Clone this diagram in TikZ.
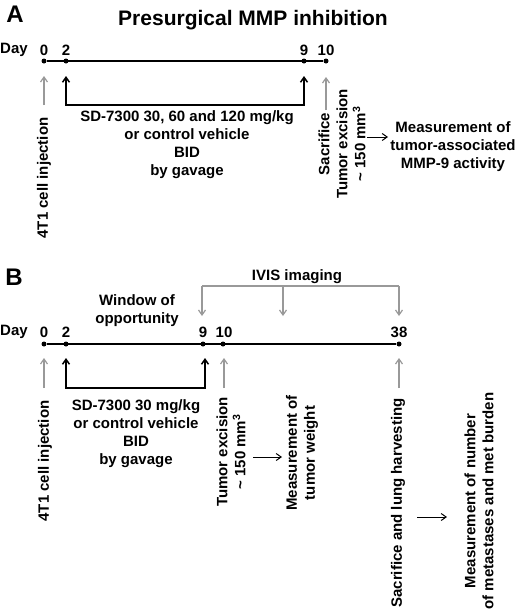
\documentclass[tikz,border=0pt]{standalone}
\usepackage{fontspec}
\setmainfont{Liberation Sans}
\usetikzlibrary{arrows.meta}
\tikzset{
  dot/.style={circle,fill=black,inner sep=0pt,minimum size=5pt},
  daynum/.style={font=\fontsize{15}{17}\bfseries\selectfont},
  txt/.style={font=\fontsize{15}{18}\bfseries\selectfont,align=center,inner sep=0pt},
  vtxt/.style={txt,rotate=90},
  tline/.style={line width=1.5pt},
  barrow/.style={line width=1.5pt,-{Straight Barb[length=5pt,width=7pt]}},
  bbracket/.style={line width=1.5pt,{Straight Barb[length=5pt,width=7pt]}-{Straight Barb[length=5pt,width=7pt]}},
  garrow/.style={line width=1.2pt,draw=gray!80,-{Straight Barb[length=5pt,width=7pt]}},
}
\begin{document}
\begin{tikzpicture}[x=1pt,y=-1pt]
\useasboundingbox (0,0) rectangle (520,616);

% panel A
\node[font=\fontsize{24}{26}\bfseries\selectfont] (A) at (15,14) {A};
\node[font=\fontsize{21}{23}\bfseries\selectfont] (titleA) at (253,20) {Presurgical MMP inhibition};
\node[daynum] (dayA) at (14,50) {Day};

\node[dot] (a0) at (44,61) {};
\node[dot] (a2) at (66,61) {};
\node[dot] (a9) at (304,61) {};
\node[dot] (a10) at (326,61) {};
\draw[tline] (a0) -- (a10);
\node[daynum] (na0) at (44,50) {0};
\node[daynum] (na2) at (66,50) {2};
\node[daynum] (na9) at (304,50) {9};
\node[daynum] (na10) at (326,50) {10};

\coordinate (ga0t) at (44,76);
\coordinate (ga0b) at (44,105);
\coordinate (ga10t) at (326,77);
\coordinate (ga10b) at (326,110);
\draw[garrow] (ga0b) -- (ga0t);
\draw[garrow] (ga10b) -- (ga10t);

\coordinate (ba2) at (66,76);
\coordinate (ba9) at (304,76);
\draw[bbracket] (ba2) -- (66,105) -- (304,105) -- (ba9);

\node[txt] (doseA) at (187,145) {SD-7300 30, 60 and 120 mg/kg\\or control vehicle\\BID\\by gavage};
\node[vtxt] (injA) at (44,178) {4T1 cell injection};
\node[vtxt] (excA) at (342,144) {Sacrifice\\Tumor excision\\\textasciitilde{} 150 mm\textsuperscript{3}};
\node[txt] (measA) at (453,147) {Measurement of\\tumor-associated\\MMP-9 activity};
\coordinate (arA1) at (367,137);
\coordinate (arA2) at (388,137);
\draw[barrow,line width=1pt] (arA1) -- (arA2);

% panel B
\node[font=\fontsize{24}{26}\bfseries\selectfont] (B) at (14,277) {B};
\node[txt] (ivis) at (297,277) {IVIS imaging};
\coordinate (iv1) at (202,316);
\coordinate (iv2) at (283,316);
\coordinate (iv3) at (399,316);
\draw[line width=1.2pt,draw=gray!80] (202,286) -- (399,286);
\draw[garrow] (202,286) -- (iv1);
\draw[garrow] (283,286) -- (iv2);
\draw[garrow] (399,286) -- (iv3);
\node[txt] (window) at (137,311) {Window of\\opportunity};
\node[daynum] (dayB) at (14,332) {Day};

\node[dot] (b0) at (44,344) {};
\node[dot] (b2) at (66,344) {};
\node[dot] (b9) at (203,344) {};
\node[dot] (b10) at (223,344) {};
\node[dot] (b38) at (399,344) {};
\draw[tline] (b0) -- (b38);
\node[daynum] (nb0) at (44,332) {0};
\node[daynum] (nb2) at (66,332) {2};
\node[daynum] (nb9) at (203,332) {9};
\node[daynum] (nb10) at (224,332) {10};
\node[daynum] (nb38) at (399,332) {38};

\coordinate (gb0t) at (44,358);
\coordinate (gb0b) at (44,388);
\coordinate (gb10t) at (224,358);
\coordinate (gb10b) at (224,388);
\coordinate (gb38t) at (399,358);
\coordinate (gb38b) at (399,388);
\draw[garrow] (gb0b) -- (gb0t);
\draw[garrow] (gb10b) -- (gb10t);
\draw[garrow] (gb38b) -- (gb38t);

\coordinate (bb2) at (66,358);
\coordinate (bb9) at (205,358);
\draw[bbracket] (bb2) -- (66,388) -- (205,388) -- (bb9);

\node[txt] (doseB) at (136,434) {SD-7300 30 mg/kg\\or control vehicle\\BID\\by gavage};
\node[vtxt] (injB) at (45,461) {4T1 cell injection};
\node[vtxt] (excB) at (231,452) {Tumor excision\\\textasciitilde{} 150 mm\textsuperscript{3}};
\node[vtxt] (weight) at (302,453) {Measurement of\\tumor weight};
\node[vtxt] (harvest) at (398,503) {Sacrifice and lung harvesting};
\node[vtxt] (mets) at (479,501) {Measurement of number\\of metastases and met burden};
\coordinate (arB1) at (253,457);
\coordinate (arB2) at (282,457);
\coordinate (arB3) at (417,517);
\coordinate (arB4) at (447,517);
\draw[barrow,line width=1pt] (arB1) -- (arB2);
\draw[barrow,line width=1pt] (arB3) -- (arB4);
\end{tikzpicture}
\end{document}
